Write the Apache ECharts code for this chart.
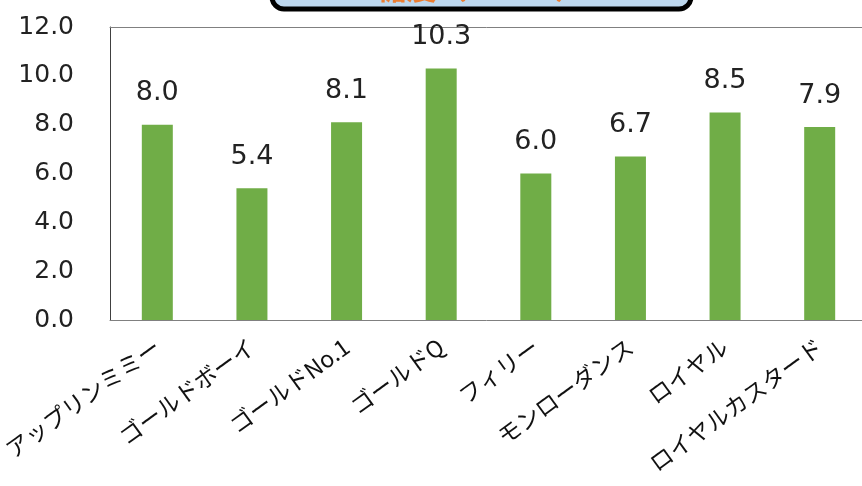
<!DOCTYPE html>
<html><head><meta charset="utf-8">
<script src="https://cdn.jsdelivr.net/npm/echarts@6/dist/echarts.min.js"></script>
<style>html,body{margin:0;padding:0;background:#fff}#c{width:862px;height:486px}</style>
</head><body><div id="c"></div>
<script>
const categories = ['アップリンミミー','ゴールドボーイ','ゴールドNo.1','ゴールドQ','フィリー','モンローダンス','ロイヤル','ロイヤルカスタード'];
const values = [8.0, 5.4, 8.1, 10.3, 6.0, 6.7, 8.5, 7.9];
const titleText = '糖度（Brix%）';

const chart = echarts.init(document.getElementById('c'), null, {renderer:'canvas'});
chart.setOption({
  animation:false,
  backgroundColor:'#fff',
  graphic:[
    {type:'rect', z:100, shape:{x:272,y:-40,width:419,height:49,r:12}, style:{fill:'#BDD7EE', stroke:'#000', lineWidth:5}},
    {type:'text', z:101, x:481, y:3, style:{text:titleText, fill:'#ED7D31', font:'bold 30px "Noto Sans CJK JP"', textAlign:'center', textVerticalAlign:'bottom'}}
  ],
  grid:{left:110, top:27, right:-5, height:293, show:false, containLabel:false, outerBoundsMode:'none'},
  xAxis:[{type:'category', data:categories,
    axisLine:{show:true, lineStyle:{color:'#808080', width:1}}, axisTick:{show:false},
    axisLabel:{rotate:36, margin:24, interval:0, color:'#111', fontSize:23, fontFamily:'"Noto Sans CJK JP"'}},
    {type:'category', position:'top', data:categories, axisLine:{show:true, lineStyle:{color:'#808080', width:1}}, axisTick:{show:false}, axisLabel:{show:false}}],
  yAxis:{type:'value', min:0, max:12, interval:2,
    axisLine:{show:true, lineStyle:{color:'#404040'}}, axisTick:{show:false}, splitLine:{show:false},
    axisLabel:{margin:36, color:'#222', fontSize:25, fontFamily:'"DejaVu Sans"', formatter:v=>v.toFixed(1)}},
  series:[{type:'bar', data:values, barWidth:31, itemStyle:{color:'#70AD47'},
    label:{show:true, position:'top', distance:18, color:'#222', fontSize:27, fontFamily:'"DejaVu Sans"', formatter:p=>p.value.toFixed(1)}}]
});
</script></body></html>
